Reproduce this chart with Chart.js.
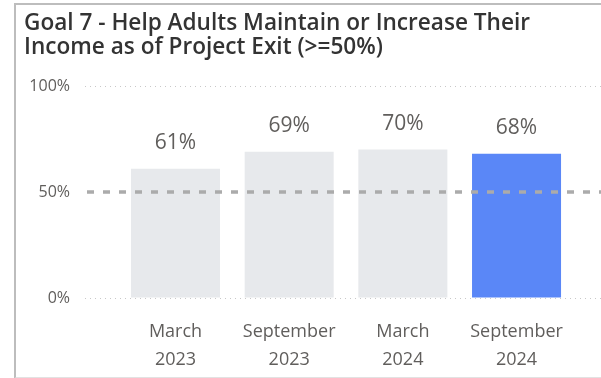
<!DOCTYPE html>
<html>
<head>
<meta charset="utf-8">
<script src="https://cdn.jsdelivr.net/npm/chart.js@4.4.1/dist/chart.umd.min.js"></script>
<style>
  html, body { margin: 0; padding: 0; background: #fff; }
  #wrap { position: absolute; left: 0; top: 0; width: 601px; height: 378px; }
  #frame {
    position: absolute; left: 14px; top: 3px; width: 600px; height: 372px;
    border-left: 2px solid #bdbdbd; border-top: 2px solid #bdbdbd; border-bottom: 2px solid #e2e2e2;
    pointer-events: none;
  }
</style>
</head>
<body>
<div id="wrap"><canvas id="goalChart" width="601" height="378"></canvas></div>
<div id="frame"></div>
<script>
// reporting periods and the share of adults who kept or grew their income
const periodLabels = [["March", "2023"], ["September", "2023"], ["March", "2024"], ["September", "2024"]];
const incomeShare = [61, 69, 70, 68];
const targetShare = 50;
const yTicks = [0, 50, 100];

const greyBar = "#E7E9EC";
const blueBar = "#5A87F7";
const labelColor = "#605E5C";

// value labels above each bar
const barValueLabels = {
  id: "barValueLabels",
  afterDatasetsDraw(chart) {
    const { ctx } = chart;
    const meta = chart.getDatasetMeta(0);
    ctx.save();
    ctx.font = "21px 'Open Sans'";
    ctx.fillStyle = labelColor;
    ctx.textAlign = "center";
    ctx.textBaseline = "middle";
    meta.data.forEach((bar, i) => {
      ctx.fillText(incomeShare[i] + "%", bar.x, bar.y - 26);
    });
    ctx.restore();
  }
};

// dashed target line drawn over the bars
const targetLine = {
  id: "targetLine",
  afterDatasetsDraw(chart) {
    const { ctx, chartArea, scales } = chart;
    const y = scales.y.getPixelForValue(targetShare);
    ctx.save();
    ctx.strokeStyle = "#ABABAB";
    ctx.lineWidth = 3.5;
    ctx.setLineDash([7, 9]);
    ctx.beginPath();
    ctx.moveTo(chartArea.left + 2, y);
    ctx.lineTo(chartArea.right, y);
    ctx.stroke();
    ctx.restore();
  }
};

new Chart(document.getElementById("goalChart"), {
  type: "bar",
  data: {
    datasets: [{
      data: incomeShare.map((v, i) => ({ x: i, y: v })),
      backgroundColor: incomeShare.map((v, i) => i === incomeShare.length - 1 ? blueBar : greyBar),
      categoryPercentage: 1,
      barPercentage: 0.783
    }]
  },
  options: {
    responsive: false,
    animation: false,
    layout: { padding: { left: 24, right: 0, top: 0, bottom: 0 } },
    plugins: {
      legend: { display: false },
      tooltip: { enabled: false },
      title: {
        display: true,
        align: "start",
        text: ["Goal 7 - Help Adults Maintain or Increase Their", "Income as of Project Exit (>=50%)"],
        color: "#333333",
        font: { family: "Open Sans", size: 22.6, weight: "600", lineHeight: 1.04 },
        padding: { top: 12, bottom: 27 }
      }
    },
    scales: {
      x: {
        type: "linear",
        offset: false,
        min: -0.796,
        max: 3.743,
        grid: { display: false },
        border: { display: false },
        afterFit: (scale) => { scale.height = 80; },
        ticks: {
          stepSize: 1,
          includeBounds: false,
          padding: 12,
          color: labelColor,
          font: { family: "Open Sans", size: 18, lineHeight: 1.55 },
          maxRotation: 0,
          callback: (v) => periodLabels[v] || ""
        }
      },
      y: {
        min: 0,
        max: 100,
        afterFit: (scale) => { scale.width = 61; },
        afterBuildTicks: (scale) => { scale.ticks = yTicks.map(v => ({ value: v })); },
        border: { display: false, dash: [1, 4] },
        grid: {
          color: (c) => c.tick && c.tick.value === targetShare ? "rgba(0,0,0,0)" : "#C8C8C8",
          lineWidth: 1,
          drawTicks: false
        },
        ticks: {
          padding: 15,
          color: labelColor,
          font: { family: "Open Sans", size: 16 },
          callback: (v) => v + "%"
        }
      }
    }
  },
  plugins: [barValueLabels, targetLine]
});
</script>
</body>
</html>
